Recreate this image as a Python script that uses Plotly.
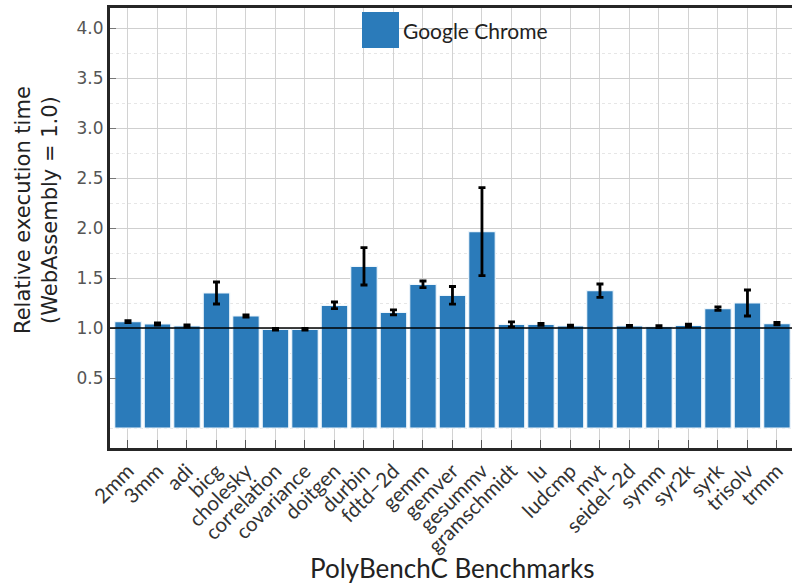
import plotly.graph_objects as go

benchmarks = ["2mm", "3mm", "adi", "bicg", "cholesky", "correlation", "covariance",
              "doitgen", "durbin", "fdtd\u22122d", "gemm", "gemver", "gesummv",
              "gramschmidt", "lu", "ludcmp", "mvt", "seidel\u22122d", "symm", "syr2k",
              "syrk", "trisolv", "trmm"]
chrome_rel_time = [1.063, 1.040, 1.020, 1.350, 1.120, 0.987, 0.987,
                   1.227, 1.617, 1.157, 1.437, 1.327, 1.963,
                   1.037, 1.037, 1.020, 1.373, 1.020, 1.013, 1.027,
                   1.193, 1.250, 1.043]
chrome_err = [0.010, 0.010, 0.010, 0.110, 0.012, 0.008, 0.008,
              0.033, 0.187, 0.025, 0.033, 0.088, 0.440,
              0.025, 0.010, 0.008, 0.067, 0.006, 0.010, 0.012,
              0.017, 0.130, 0.012]
y_ticks = [0.5, 1.0, 1.5, 2.0, 2.5, 3.0, 3.5, 4.0]

BLUE = "#2b7bba"
LEFT, BOTTOM, TOP = 110, 135, 8
W, H = 792, 583
plot_w = W - LEFT
plot_h = H - BOTTOM - TOP

fig = go.Figure()
fig.add_trace(go.Bar(
    x=benchmarks, y=chrome_rel_time, name="Google Chrome",
    width=0.9,
    marker=dict(color=BLUE, line=dict(color="#eef6fc", width=1.2)),
    error_y=dict(type="data", array=chrome_err, visible=True,
                 color="black", thickness=2.8, width=3.5),
    showlegend=False,
))

# reference line at parity with WebAssembly
fig.add_shape(type="line", xref="paper", yref="y", x0=0, x1=1, y0=1.0, y1=1.0,
              line=dict(color="black", width=1.6), layer="above")

# pixel helpers for placing the legend key and titles
def px_x(p):
    return (p - LEFT) / plot_w

def px_y(p):
    return (H - BOTTOM - p) / plot_h

# legend key drawn as a large square swatch with its label
fig.add_shape(type="rect", xref="paper", yref="paper",
              x0=px_x(362), x1=px_x(399), y0=px_y(48), y1=px_y(12),
              fillcolor=BLUE, line=dict(width=0), layer="above")
fig.add_annotation(text="Google Chrome", xref="paper", yref="paper",
                   x=px_x(401), y=px_y(31), xanchor="left", yanchor="middle",
                   showarrow=False, font=dict(family="Lato", size=21, color="#222"))

# axis titles
fig.add_annotation(text="PolyBenchC Benchmarks", xref="paper", yref="paper",
                   x=px_x(452), y=px_y(568), xanchor="center", yanchor="middle",
                   showarrow=False, font=dict(family="Lato", size=26, color="#222"))
fig.add_annotation(text="Relative execution time<br>(WebAssembly = 1.0)",
                   xref="paper", yref="paper", x=px_x(36), y=px_y(210),
                   xanchor="center", yanchor="middle", textangle=-90,
                   showarrow=False,
                   font=dict(family="DejaVu Sans", size=21, color="#222"))

fig.update_layout(
    width=W, height=H,
    margin=dict(l=LEFT, r=0, t=TOP, b=BOTTOM, pad=0),
    plot_bgcolor="white", paper_bgcolor="white",
    bargap=0.1,
    xaxis=dict(
        range=[-0.61, 22.51], showgrid=True, gridcolor="#d2d2d2", gridwidth=1,
        showline=True, linecolor="#262626", linewidth=3, mirror=True,
        ticks="inside", ticklen=8, tickcolor="#555", tickwidth=1,
        tickangle=-45,
        tickfont=dict(family="Lato", size=20.5, color="#333"),
    ),
    yaxis=dict(
        range=[-0.2, 4.2], tickvals=y_ticks, ticktext=[f"{v:.1f}" for v in y_ticks],
        showgrid=True, gridcolor="#cfcfcf", gridwidth=1, zeroline=False,
        showline=True, linecolor="#262626", linewidth=3, mirror=False,
        ticks="inside", ticklen=6, tickcolor="#777",
        tickfont=dict(family="DejaVu Sans", size=17, color="#555"),
        minor=dict(dtick=0.25, tick0=0, showgrid=True, gridcolor="#e6e6e6",
                   griddash="dot", gridwidth=1),
    ),
)

fig.write_html("out.html")
